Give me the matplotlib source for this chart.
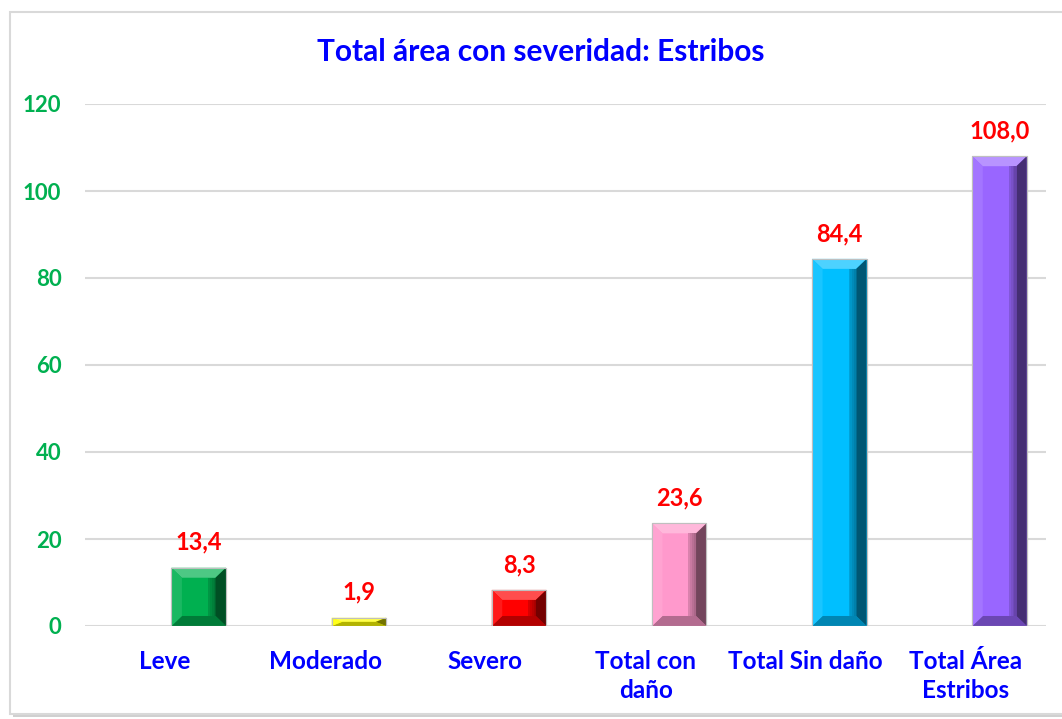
import matplotlib
matplotlib.use("Agg")
import matplotlib.pyplot as plt
from matplotlib.patches import Polygon, Rectangle
from matplotlib.colors import to_rgb

# datos
categorias = ["Leve", "Moderado", "Severo", "Total con\ndaño", "Total Sin daño", "Total Área\nEstribos"]
valores = [13.4, 1.9, 8.3, 23.6, 84.4, 108.0]
etiquetas = ["13,4", "1,9", "8,3", "23,6", "84,4", "108,0"]
colores = ["#00B050", "#FFFF00", "#FF0000", "#FF99CC", "#00BFFF", "#9966FF"]

plt.rcParams['font.family'] = ['Lato', 'DejaVu Sans']
plt.rcParams['font.weight'] = 'bold'

fig = plt.figure(figsize=(10.62, 7.19), dpi=100)
ax = fig.add_axes([85/1062, 1-626/719, (1046-85)/1062, (626-104)/719])

# marco del grafico con sombra
fig.patches.append(Rectangle((13/1062, 2/719), 1.1, 706/719, transform=fig.transFigure,
                             facecolor="#D0D0D0", edgecolor="none", zorder=-2))
fig.patches.append(Rectangle((10/1062, 5/719), 1.1, 702/719, transform=fig.transFigure,
                             facecolor="white", edgecolor="#D9D9D9", linewidth=1.5, zorder=-1))


def mezcla(c, otro, t):
    c = to_rgb(c)
    return tuple(c[i] * (1 - t) + otro[i] * t for i in range(3))


x = [i + 0.21 for i in range(len(valores))]
ancho = 0.34
barras = ax.bar(x, valores, width=ancho, color=colores, edgecolor="#BFBFBF", linewidth=0.8, zorder=3)

# efecto bisel
for b, c in zip(barras, colores):
    x0, y0 = b.get_x(), 0
    x1, y1 = x0 + b.get_width(), b.get_height()
    bx = min(0.065, b.get_width() / 2)
    by = min(2.3, y1 / 2)
    arriba = [(x0, y1), (x1, y1), (x1 - bx, y1 - by), (x0 + bx, y1 - by)]
    derecha = [(x1, y0), (x1, y1), (x1 - bx, y1 - by), (x1 - bx, y0 + by)]
    abajo = [(x0, y0), (x1, y0), (x1 - bx, y0 + by), (x0 + bx, y0 + by)]
    izquierda = [(x0, y0), (x0, y1), (x0 + bx, y1 - by), (x0 + bx, y0 + by)]
    ax.add_patch(Polygon(arriba, closed=True, color=mezcla(c, (1, 1, 1), 0.3), lw=0, zorder=4))
    ax.add_patch(Polygon(abajo, closed=True, color=mezcla(c, (0, 0, 0), 0.3), lw=0, zorder=4))
    ax.add_patch(Polygon(izquierda, closed=True, color=mezcla(c, (1, 1, 1), 0.1), lw=0, zorder=4))
    ax.add_patch(Polygon(derecha, closed=True, color=mezcla(c, (0, 0, 0), 0.55), lw=0, zorder=5))
    # degradado hacia el borde derecho
    for k in range(4):
        f = 0.25 + 0.1 * k
        ax.add_patch(Rectangle((x1 - bx - 0.012 * (4 - k), y0 + by), 0.012, max(y1 - 2 * by, 0),
                               color=mezcla(c, (0, 0, 0), f * 0.6), lw=0, zorder=4))
    ax.add_patch(Rectangle((x0, y0), x1 - x0, y1, fill=False, edgecolor="#BFBFBF", lw=0.8, zorder=6))

for xi, v, t in zip(x, valores, etiquetas):
    ax.annotate(t, (xi, v), xytext=(0, 10), textcoords="offset points", ha="center", va="bottom",
                color="red", fontsize=17, fontweight="bold")

ax.set_xlim(-0.5, 5.5)
ax.set_ylim(0, 120)
ax.set_yticks(range(0, 121, 20))
ax.set_xticks(range(len(categorias)))
ax.set_xticklabels(categorias, color="blue", fontsize=17.5, fontweight="bold", linespacing=1.35)
ax.tick_params(axis="x", length=0, pad=17)
ax.tick_params(axis="y", length=0, pad=17, labelcolor="#00B050", labelsize=16)
for t in ax.get_yticklabels():
    t.set_fontweight("bold")
for t in ax.get_xticklabels():
    t.set_verticalalignment("top")

ax.grid(axis="y", color="#D9D9D9", linewidth=1.5, zorder=0)
ax.set_axisbelow(True)
for s in ax.spines.values():
    s.set_visible(False)

fig.text(541/1062, 1-52/719, "Total área con severidad: Estribos", ha="center", va="center",
         color="blue", fontsize=21.5, fontweight="bold")

fig.savefig("out.png", dpi=100)
